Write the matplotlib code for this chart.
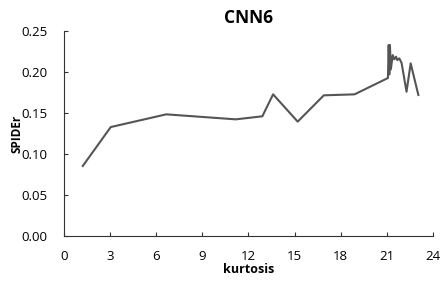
import matplotlib
matplotlib.use('Agg')
import matplotlib.pyplot as plt

# kurtosis vs SPIDEr
kurtosis = [1.22, 3.04, 6.65, 11.17, 12.9, 13.6, 15.2, 16.9, 18.9, 21.07,
            21.12, 21.16, 21.2, 21.26, 21.38, 21.48, 21.6, 21.68, 21.81, 21.96,
            22.28, 22.55, 23.05]
spider = [0.0854, 0.1329, 0.1484, 0.1423, 0.146, 0.1728, 0.1395, 0.1716, 0.1728, 0.1927,
          0.233, 0.197, 0.233, 0.2033, 0.2207, 0.2155, 0.2187, 0.2146, 0.2167, 0.211,
          0.176, 0.2106, 0.172]

x_ticks = [0, 3, 6, 9, 12, 15, 18, 21, 24]
y_ticks = [0.00, 0.05, 0.10, 0.15, 0.20, 0.25]

plt.rcParams['font.family'] = ['Open Sans', 'DejaVu Sans']

fig = plt.figure(figsize=(4.4, 2.85), dpi=100)
ax = fig.add_axes([0.1455, 0.172, 0.984 - 0.1455, 0.891 - 0.172])

ax.plot(kurtosis, spider, color='#555555', linewidth=1.5)

ax.set_xlim(0, 24)
ax.set_ylim(0, 0.25)
ax.set_xticks(x_ticks)
ax.set_xticklabels([str(t) for t in x_ticks])
ax.set_yticks(y_ticks)
ax.set_yticklabels([f'{t:.2f}' for t in y_ticks])
ax.tick_params(direction='in', length=3, width=0.8, colors='#333333',
               labelsize=9.5, labelcolor='black')
ax.tick_params(axis='x', pad=10)
ax.tick_params(axis='y', pad=12)

for s in ['top', 'right']:
    ax.spines[s].set_visible(False)
for s in ['left', 'bottom']:
    ax.spines[s].set_color('#333333')
    ax.spines[s].set_linewidth(0.8)

ax.set_title('CNN6', fontsize=12.5, fontweight='bold', pad=6)
ax.set_xlabel('kurtosis', fontsize=9, fontweight='bold', labelpad=0)
ax.set_ylabel('SPIDEr', fontsize=8.5, fontweight='bold')
ax.yaxis.set_label_coords(-0.11, 0.5)

fig.savefig('out.png', dpi=100)
